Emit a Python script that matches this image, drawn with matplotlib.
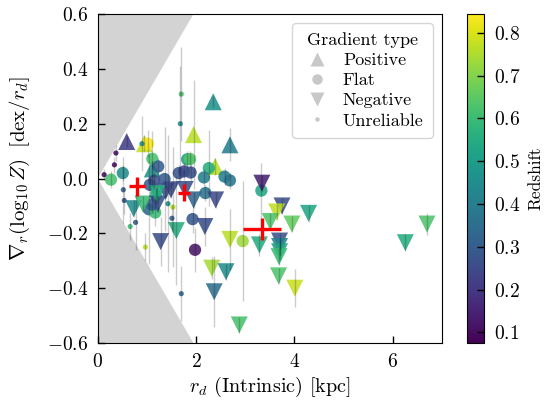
import numpy as np
import matplotlib
matplotlib.use("Agg")
import matplotlib.pyplot as plt
from matplotlib.colors import Normalize
from matplotlib.lines import Line2D

plt.rcParams.update({
    "font.family": "serif",
    "font.serif": ["cmr10"],
    "mathtext.fontset": "cm",
    "axes.formatter.use_mathtext": True,
    "font.size": 12,
})

# ── data ─────────────────────────────────────────────────────────────────────
# Positive gradients (upward triangles)
pos_rd   = [0.59, 0.95, 1.95, 2.35, 2.69, 1.11, 2.39]
pos_grad = [0.135, 0.127, 0.160, 0.280, 0.123, 0.035, 0.044]
pos_err  = [0.02, 0.03, 0.20, 0.02, 0.06, 0.03, 0.03]
pos_z    = [0.22, 0.78, 0.76, 0.47, 0.40, 0.47, 0.76]

# Flat gradients (circles)
flat_rd   = [1.02, 1.11, 1.23, 1.82, 1.88, 2.26, 2.16, 2.58, 2.69, 0.51,
             0.27, 1.36, 1.65, 1.76, 1.89, 1.06, 1.15, 2.19, 1.19, 3.33,
             2.95, 1.93, 1.98, 1.04, 1.17, 1.10]
flat_grad = [0.127, 0.072, 0.044, 0.070, 0.071, 0.038, 0.004, 0.007, -0.007, 0.020,
             -0.004, -0.002, 0.020, 0.026, 0.022, -0.023, -0.008, -0.053, -0.060, -0.044,
             -0.228, -0.148, -0.260, -0.112, -0.124, -0.095]
flat_err  = [0.05, 0.10, 0.03, 0.03, 0.03, 0.14, 0.03, 0.03, 0.03, 0.03,
             0.03, 0.19, 0.03, 0.03, 0.03, 0.03, 0.03, 0.03, 0.03, 0.10,
             0.22, 0.05, 0.08, 0.20, 0.05, 0.03]
flat_z    = [0.84, 0.62, 0.30, 0.50, 0.64, 0.56, 0.40, 0.40, 0.38, 0.45,
             0.62, 0.30, 0.28, 0.25, 0.27, 0.30, 0.26, 0.37, 0.56, 0.53,
             0.73, 0.28, 0.12, 0.33, 0.60, 0.30]

# Negative gradients (downward triangles)
neg_rd   = [1.38, 1.49, 1.78, 1.95, 2.40, 0.73, 0.92, 1.22, 1.20, 3.34,
            3.75, 4.29, 3.64, 3.51, 3.95, 2.69, 3.29, 3.70, 3.70, 3.70,
            3.69, 3.68, 2.32, 2.61, 4.01, 2.37, 2.88, 1.28, 1.60, 2.18,
            6.70, 6.26]
neg_grad = [-0.047, -0.041, -0.040, -0.078, -0.078, -0.110, -0.093, -0.093, -0.055, -0.017,
            -0.100, -0.127, -0.122, -0.157, -0.166, -0.222, -0.242, -0.228, -0.248, -0.267,
            -0.285, -0.355, -0.327, -0.340, -0.400, -0.413, -0.534, -0.230, -0.190, -0.175,
            -0.166, -0.234]
neg_err  = [0.02, 0.03, 0.03, 0.03, 0.03, 0.03, 0.03, 0.03, 0.03, 0.03,
            0.03, 0.03, 0.03, 0.03, 0.03, 0.11, 0.04, 0.03, 0.03, 0.03,
            0.03, 0.03, 0.04, 0.03, 0.07, 0.13, 0.03, 0.09, 0.20, 0.07,
            0.04, 0.03]
neg_z    = [0.27, 0.25, 0.27, 0.33, 0.25, 0.45, 0.60, 0.27, 0.55, 0.15,
            0.26, 0.53, 0.77, 0.63, 0.66, 0.76, 0.55, 0.27, 0.42, 0.52,
            0.60, 0.63, 0.74, 0.45, 0.78, 0.35, 0.62, 0.26, 0.55, 0.26,
            0.63, 0.55]

# Unreliable gradients (small dots)
unr_rd   = [1.70, 1.68, 0.90, 0.37, 0.34, 0.13, 0.52, 0.54, 1.43, 1.53,
            0.66, 0.77, 1.51, 0.97, 1.70]
unr_grad = [0.308, 0.200, 0.127, 0.093, 0.050, 0.014, -0.041, -0.080, -0.092, -0.104,
            -0.175, -0.160, -0.145, -0.250, -0.420]
unr_err  = [0.17, 0.21, 0.10, 0.03, 0.03, 0.02, 0.12, 0.05, 0.25, 0.22,
            0.05, 0.10, 0.05, 0.05, 0.10]
unr_z    = [0.62, 0.45, 0.45, 0.10, 0.10, 0.10, 0.30, 0.28, 0.45, 0.76,
            0.60, 0.28, 0.30, 0.76, 0.32]

# binned medians (red crosses)
med_rd   = [0.80, 1.76, 3.34]
med_grad = [-0.029, -0.051, -0.184]
med_xerr = [0.17, 0.12, 0.39]
med_yerr = [0.035, 0.030, 0.040]

Z_MIN, Z_MAX = 0.075, 0.844
WEDGE_SLOPE = 0.308   # gradients unresolvable inside the grey wedge

norm = Normalize(vmin=Z_MIN, vmax=Z_MAX)
cmap = plt.get_cmap("viridis")

fig = plt.figure(figsize=(5.46, 4.01), dpi=100)
ax = fig.add_axes([0.179, 0.1446, 0.630, 0.8204])
cax = fig.add_axes([0.855, 0.1446, 0.0322, 0.8204])

xs = np.array([0.0, 7.0])
ax.fill_between(xs, WEDGE_SLOPE * xs, 1.0, color="lightgray", lw=0, zorder=0)
ax.fill_between(xs, -1.0, -WEDGE_SLOPE * xs, color="lightgray", lw=0, zorder=0)

groups = [
    (pos_rd, pos_grad, pos_err, pos_z, "^", 150),
    (flat_rd, flat_grad, flat_err, flat_z, "o", 78),
    (neg_rd, neg_grad, neg_err, neg_z, "v", 150),
    (unr_rd, unr_grad, unr_err, unr_z, "o", 14),
]
for rd, g, e, z, mk, s in groups:
    ax.scatter(rd, g, c=z, cmap=cmap, norm=norm, marker=mk, s=s,
               linewidths=0, alpha=0.88, zorder=2)
    ax.errorbar(rd, g, yerr=e, fmt="none", ecolor="k", alpha=0.2,
                elinewidth=1.0, capsize=0, zorder=3)

ax.errorbar(med_rd, med_grad, xerr=med_xerr, yerr=med_yerr, fmt="none",
            ecolor="red", elinewidth=2.4, capsize=0, zorder=4)

ax.set_xlim(0, 7)
ax.set_ylim(-0.6, 0.6)
ax.set_xticks([0, 2, 4, 6])
ax.set_yticks([-0.6, -0.4, -0.2, 0.0, 0.2, 0.4, 0.6])
ax.tick_params(direction="in", length=5, width=1, pad=7, labelsize=14)
ax.set_xlabel(r"$r_d$ (Intrinsic) [kpc]", fontsize=14.5, labelpad=3)
ax.set_ylabel(r"$\nabla_r(\log_{10}Z)\;\;[\mathrm{dex}/r_d]$", fontsize=15)
ax.yaxis.set_label_coords(-0.19, 0.53)

grey = "#c8c8c8"
handles = [
    Line2D([], [], ls="none", marker="^", ms=10, color=grey, mec="none"),
    Line2D([], [], ls="none", marker="o", ms=7.5, color=grey, mec="none"),
    Line2D([], [], ls="none", marker="v", ms=10, color=grey, mec="none"),
    Line2D([], [], ls="none", marker="o", ms=3.2, color=grey, mec="none"),
]
ax.legend(handles, ["Positive", "Flat", "Negative", "Unreliable"],
          title="Gradient type", loc="upper right", fontsize=13, title_fontsize=13,
          labelspacing=0.25, borderpad=0.5, handlelength=1.7, handletextpad=0.6)

sm = plt.cm.ScalarMappable(norm=norm, cmap=cmap)
cb = fig.colorbar(sm, cax=cax)
cb.set_ticks([0.1, 0.2, 0.3, 0.4, 0.5, 0.6, 0.7, 0.8])
cb.ax.tick_params(direction="in", length=5, width=1, pad=7, labelsize=14)
cb.set_label("Redshift", fontsize=12.5, labelpad=5)

fig.savefig("out.png", dpi=100)
